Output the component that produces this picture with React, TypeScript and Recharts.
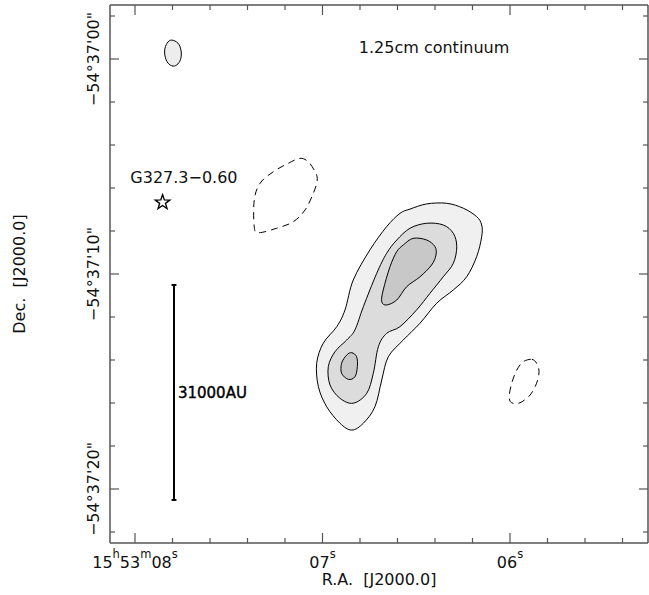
import React from 'react';
import { ScatterChart, Scatter, XAxis, YAxis, ReferenceLine } from 'recharts';

const FONT = '"DejaVu Sans", "Liberation Sans", sans-serif';
const FRAME = '#555555';
const INK = '#111111';

// x: R.A. seconds of 15h53m ; y: Dec offset in arcsec south of -54°37'00"
const outerContour = [
  { ra: 6.533, dec: 6.98 }, { ra: 6.444, dec: 6.74 }, { ra: 6.338, dec: 6.71 }, { ra: 6.249, dec: 6.94 },
  { ra: 6.178, dec: 7.33 }, { ra: 6.151, dec: 7.72 }, { ra: 6.151, dec: 8.27 }, { ra: 6.178, dec: 9.2 },
  { ra: 6.231, dec: 10.13 }, { ra: 6.302, dec: 10.74 }, { ra: 6.391, dec: 11.36 }, { ra: 6.48, dec: 12.29 },
  { ra: 6.569, dec: 13.07 }, { ra: 6.649, dec: 13.85 }, { ra: 6.684, dec: 14.93 }, { ra: 6.72, dec: 16.17 },
  { ra: 6.782, dec: 16.94 }, { ra: 6.844, dec: 17.26 }, { ra: 6.907, dec: 16.94 }, { ra: 6.978, dec: 16.17 },
  { ra: 7.022, dec: 15.24 }, { ra: 7.031, dec: 14.15 }, { ra: 6.996, dec: 13.22 }, { ra: 6.924, dec: 12.45 },
  { ra: 6.88, dec: 11.67 }, { ra: 6.836, dec: 10.28 }, { ra: 6.747, dec: 8.88 }, { ra: 6.658, dec: 7.8 },
  { ra: 6.587, dec: 7.18 },
];

const middleContour = [
  { ra: 6.604, dec: 8.42 }, { ra: 6.533, dec: 7.87 }, { ra: 6.444, dec: 7.64 }, { ra: 6.356, dec: 7.72 },
  { ra: 6.302, dec: 8.11 }, { ra: 6.284, dec: 8.73 }, { ra: 6.302, dec: 9.5 }, { ra: 6.356, dec: 10.13 },
  { ra: 6.427, dec: 10.9 }, { ra: 6.498, dec: 11.67 }, { ra: 6.587, dec: 12.45 }, { ra: 6.658, dec: 12.76 },
  { ra: 6.702, dec: 13.38 }, { ra: 6.729, dec: 14.62 }, { ra: 6.764, dec: 15.55 }, { ra: 6.836, dec: 16.01 },
  { ra: 6.907, dec: 15.78 }, { ra: 6.96, dec: 15.16 }, { ra: 6.969, dec: 14.31 }, { ra: 6.933, dec: 13.61 },
  { ra: 6.871, dec: 13.07 }, { ra: 6.827, dec: 12.6 }, { ra: 6.782, dec: 11.52 }, { ra: 6.711, dec: 9.97 },
  { ra: 6.658, dec: 9.04 },
];

const innerNorthContour = [
  { ra: 6.569, dec: 8.65 }, { ra: 6.516, dec: 8.34 }, { ra: 6.444, dec: 8.42 }, { ra: 6.4, dec: 8.73 },
  { ra: 6.395, dec: 9.12 }, { ra: 6.418, dec: 9.58 }, { ra: 6.48, dec: 10.13 }, { ra: 6.551, dec: 10.59 },
  { ra: 6.604, dec: 11.21 }, { ra: 6.658, dec: 11.44 }, { ra: 6.684, dec: 11.29 }, { ra: 6.676, dec: 10.74 },
  { ra: 6.64, dec: 9.66 }, { ra: 6.604, dec: 8.96 },
];

const innerSouthContour = [
  { ra: 6.844, dec: 13.66 }, { ra: 6.818, dec: 13.85 }, { ra: 6.814, dec: 14.31 }, { ra: 6.827, dec: 14.78 },
  { ra: 6.862, dec: 14.9 }, { ra: 6.898, dec: 14.62 }, { ra: 6.898, dec: 14.15 }, { ra: 6.871, dec: 13.77 },
];

const negativeNorthContour = [
  { ra: 7.12, dec: 4.62 }, { ra: 7.076, dec: 4.78 }, { ra: 7.04, dec: 5.24 }, { ra: 7.028, dec: 5.63 },
  { ra: 7.049, dec: 6.25 }, { ra: 7.093, dec: 7.02 }, { ra: 7.156, dec: 7.57 }, { ra: 7.244, dec: 7.87 },
  { ra: 7.342, dec: 8.08 }, { ra: 7.364, dec: 7.8 }, { ra: 7.364, dec: 6.56 }, { ra: 7.333, dec: 5.78 },
  { ra: 7.262, dec: 5.24 }, { ra: 7.182, dec: 4.85 },
];

const negativeSouthContour = [
  { ra: 5.884, dec: 13.97 }, { ra: 5.858, dec: 14.15 }, { ra: 5.845, dec: 14.54 }, { ra: 5.858, dec: 15.08 },
  { ra: 5.893, dec: 15.63 }, { ra: 5.947, dec: 15.99 }, { ra: 5.991, dec: 15.99 }, { ra: 6.004, dec: 15.71 },
  { ra: 5.991, dec: 15.08 }, { ra: 5.964, dec: 14.47 }, { ra: 5.929, dec: 14.08 },
];

const beamEllipse = [
  { ra: 7.803, dec: -0.88 }, { ra: 7.771, dec: -0.74 }, { ra: 7.755, dec: -0.42 }, { ra: 7.755, dec: -0.05 },
  { ra: 7.771, dec: 0.23 }, { ra: 7.797, dec: 0.33 }, { ra: 7.824, dec: 0.19 }, { ra: 7.84, dec: -0.14 },
  { ra: 7.84, dec: -0.51 }, { ra: 7.824, dec: -0.79 },
];

const sourceStar = [{ ra: 7.853, dec: 6.67 }];

const plainLabels = [
  { ra: 7.739, dec: 5.77, text: 'G327.3\u22120.60', anchor: 'middle' },
  { ra: 6.405, dec: -0.28, text: '1.25cm continuum', anchor: 'middle' },
];
const scaleLabels = [{ ra: 7.771, dec: 15.77, text: '31000AU', anchor: 'start' }];

const scaleBarRa = 7.792;
const scaleBarDec = [10.51, 20.51];
const scaleCapHalf = 0.013;

const raDomain = [5.264, 8.1333];
const decDomain = [-2.512, 22.512];
const raTicks = [8.0, 7.8, 7.6, 7.4, 7.2, 7.0, 6.8, 6.6, 6.4, 6.2, 6.0, 5.8, 5.6, 5.4];
const decTicks = [-2, 0, 2, 4, 6, 8, 10, 12, 14, 16, 18, 20, 22];
const raTickLabels = [
  { value: 8, text: '15^h53^m08^s' },
  { value: 7, text: '07^s' },
  { value: 6, text: '06^s' },
];
const decTickLabels = [
  { value: 0, text: '\u221254\u00b037\'00"' },
  { value: 10, text: '\u221254\u00b037\'10"' },
  { value: 20, text: '\u221254\u00b037\'20"' },
];
const xTitle = 'R.A.\u00a0\u00a0[J2000.0]';
const yTitle = 'Dec.\u00a0\u00a0[J2000.0]';

const near = (a: number, b: number) => Math.abs(a - b) < 1e-6;

function closedCurve(pts: { x: number; y: number }[]) {
  const n = pts.length;
  if (!n) return '';
  let d = `M${pts[0].x},${pts[0].y}`;
  for (let i = 0; i < n; i++) {
    const p0 = pts[(i - 1 + n) % n];
    const p1 = pts[i];
    const p2 = pts[(i + 1) % n];
    const p3 = pts[(i + 2) % n];
    const c1x = p1.x + (p2.x - p0.x) / 6;
    const c1y = p1.y + (p2.y - p0.y) / 6;
    const c2x = p2.x - (p3.x - p1.x) / 6;
    const c2y = p2.y - (p3.y - p1.y) / 6;
    d += ` C${c1x},${c1y} ${c2x},${c2y} ${p2.x},${p2.y}`;
  }
  return d + ' Z';
}

const ClosedContour = (props: any) => {
  const pts = (props.points || []).filter((p: any) => p && p.x != null && p.y != null);
  return (
    <path
      d={closedCurve(pts)}
      fill={props.areaFill || 'none'}
      stroke="#000"
      strokeWidth={1}
      strokeDasharray={props.dash}
    />
  );
};

const NoShape = () => <g />;

const StarShape = (props: any) => {
  const { cx, cy } = props;
  const R = 7.6;
  const r = 3.1;
  const pts: string[] = [];
  for (let i = 0; i < 10; i++) {
    const ang = -Math.PI / 2 + (i * Math.PI) / 5;
    const rad = i % 2 === 0 ? R : r;
    pts.push(`${cx + rad * Math.cos(ang)},${cy + rad * Math.sin(ang)}`);
  }
  return <polygon points={pts.join(' ')} fill="#fff" stroke="#000" strokeWidth={1.4} strokeLinejoin="miter" />;
};

const TextShape = (props: any) => {
  const { cx, cy, payload } = props;
  return (
    <text x={cx} y={cy} textAnchor={payload.anchor} fontFamily={FONT} fontSize={16} fill={INK}>
      {payload.text}
    </text>
  );
};

const BoldTextShape = (props: any) => {
  const { cx, cy, payload } = props;
  return (
    <text
      x={cx}
      y={cy}
      textAnchor={payload.anchor}
      fontFamily={FONT}
      fontSize={15}
      fill="#000"
      stroke="#000"
      strokeWidth={0.4}
    >
      {payload.text}
    </text>
  );
};

function renderSup(text: string) {
  const parts: { t: string; sup: boolean }[] = [];
  let buf = '';
  for (let i = 0; i < text.length; i++) {
    if (text[i] === '^') {
      if (buf) parts.push({ t: buf, sup: false });
      buf = '';
      parts.push({ t: text[i + 1], sup: true });
      i++;
    } else buf += text[i];
  }
  if (buf) parts.push({ t: buf, sup: false });
  let cur = 0;
  return parts.map((p, i) => {
    const target = p.sup ? -10 : 0;
    const dy = target - cur;
    cur = target;
    return (
      <tspan key={i} dy={dy} fontSize={p.sup ? 11.5 : 16}>
        {p.t}
      </tspan>
    );
  });
}

const BottomTick = (props: any) => {
  const { x, y, payload } = props;
  const v = payload.value;
  const major = near(v, Math.round(v));
  const lab = raTickLabels.find((l) => near(l.value, v));
  return (
    <g>
      <line x1={x} y1={y} x2={x} y2={y - (major ? 10 : 5)} stroke={FRAME} strokeWidth={1.2} />
      {lab && (
        <text x={x} y={y + 25} textAnchor="middle" fontFamily={FONT} fontSize={16} fill={INK}>
          {renderSup(lab.text)}
        </text>
      )}
    </g>
  );
};

const TopTick = (props: any) => {
  const { x, y, payload } = props;
  const v = payload.value;
  const major = near(v, Math.round(v));
  return <line x1={x} y1={y} x2={x} y2={y + (major ? 10 : 5)} stroke={FRAME} strokeWidth={1.2} />;
};

const LeftTick = (props: any) => {
  const { x, y, payload } = props;
  const v = payload.value;
  const major = near(v % 10, 0);
  const lab = decTickLabels.find((l) => near(l.value, v));
  const tx = x - 10.7;
  return (
    <g>
      <line x1={x} y1={y} x2={x + (major ? 9 : 5)} y2={y} stroke={FRAME} strokeWidth={1.2} />
      {lab && (
        <text
          x={tx}
          y={y}
          transform={`rotate(-90 ${tx} ${y})`}
          textAnchor="middle"
          fontFamily={FONT}
          fontSize={16}
          fill={INK}
        >
          {lab.text}
        </text>
      )}
    </g>
  );
};

const RightTick = (props: any) => {
  const { x, y, payload } = props;
  const v = payload.value;
  const major = near(v % 10, 0);
  return <line x1={x} y1={y} x2={x - (major ? 9 : 5)} y2={y} stroke={FRAME} strokeWidth={1.2} />;
};

const XTitle = (props: any) => {
  const vb = props.viewBox && props.viewBox.width ? props.viewBox : { x: 110, y: 543, width: 538, height: 0 };
  const cx = vb.x + vb.width / 2;
  return (
    <text x={cx} y={585} textAnchor="middle" fontFamily={FONT} fontSize={16} fill={INK}>
      {xTitle}
    </text>
  );
};

const YTitle = (props: any) => {
  const vb = props.viewBox && props.viewBox.height ? props.viewBox : { x: 109, y: 5, width: 1, height: 538 };
  const tx = 24.5;
  const ty = vb.y + vb.height / 2;
  return (
    <text
      x={tx}
      y={ty}
      transform={`rotate(-90 ${tx} ${ty})`}
      textAnchor="middle"
      fontFamily={FONT}
      fontSize={16}
      fill={INK}
    >
      {yTitle}
    </text>
  );
};

const axisLine = { stroke: FRAME, strokeWidth: 1.5 };

export default function App() {
  return (
    <div style={{ position: 'absolute', left: 0, top: 0, background: '#fff' }}>
      <ScatterChart width={649} height={595} margin={{ top: 4, right: 0, bottom: 51, left: 109 }}>
        <XAxis
          xAxisId="b"
          type="number"
          dataKey="ra"
          domain={raDomain}
          reversed
          ticks={raTicks}
          interval={0}
          tickSize={0}
          tickMargin={0}
          tickLine={false}
          tick={<BottomTick />}
          axisLine={axisLine}
          height={1}
          label={<XTitle />}
        />
        <XAxis
          xAxisId="t"
          orientation="top"
          type="number"
          dataKey="ra"
          domain={raDomain}
          reversed
          ticks={raTicks}
          interval={0}
          tickSize={0}
          tickMargin={0}
          tickLine={false}
          tick={<TopTick />}
          axisLine={axisLine}
          height={1}
        />
        <YAxis
          yAxisId="l"
          type="number"
          dataKey="dec"
          domain={decDomain}
          reversed
          ticks={decTicks}
          interval={0}
          tickSize={0}
          tickMargin={0}
          tickLine={false}
          tick={<LeftTick />}
          axisLine={axisLine}
          width={1}
          label={<YTitle />}
        />
        <YAxis
          yAxisId="r"
          orientation="right"
          type="number"
          dataKey="dec"
          domain={decDomain}
          reversed
          ticks={decTicks}
          interval={0}
          tickSize={0}
          tickMargin={0}
          tickLine={false}
          tick={<RightTick />}
          axisLine={axisLine}
          width={1}
        />

        <Scatter xAxisId="t" yAxisId="r" data={sourceStar} shape={<NoShape />} isAnimationActive={false} legendType="none" />

        <Scatter xAxisId="b" yAxisId="l" data={beamEllipse} shape={<NoShape />} line={<ClosedContour areaFill="#ededed" />} lineType="joint" isAnimationActive={false} />
        <Scatter xAxisId="b" yAxisId="l" data={outerContour} shape={<NoShape />} line={<ClosedContour areaFill="#f0f0f0" />} lineType="joint" isAnimationActive={false} />
        <Scatter xAxisId="b" yAxisId="l" data={middleContour} shape={<NoShape />} line={<ClosedContour areaFill="#dcdcdc" />} lineType="joint" isAnimationActive={false} />
        <Scatter xAxisId="b" yAxisId="l" data={innerNorthContour} shape={<NoShape />} line={<ClosedContour areaFill="#c8c8c8" />} lineType="joint" isAnimationActive={false} />
        <Scatter xAxisId="b" yAxisId="l" data={innerSouthContour} shape={<NoShape />} line={<ClosedContour areaFill="#c8c8c8" />} lineType="joint" isAnimationActive={false} />
        <Scatter xAxisId="b" yAxisId="l" data={negativeNorthContour} shape={<NoShape />} line={<ClosedContour dash="7 5" />} lineType="joint" isAnimationActive={false} />
        <Scatter xAxisId="b" yAxisId="l" data={negativeSouthContour} shape={<NoShape />} line={<ClosedContour dash="7 5" />} lineType="joint" isAnimationActive={false} />

        <ReferenceLine xAxisId="b" yAxisId="l" segment={[{ x: scaleBarRa, y: scaleBarDec[0] }, { x: scaleBarRa, y: scaleBarDec[1] }]} stroke="#000" strokeWidth={2} />
        <ReferenceLine xAxisId="b" yAxisId="l" segment={[{ x: scaleBarRa + scaleCapHalf, y: scaleBarDec[0] }, { x: scaleBarRa - scaleCapHalf, y: scaleBarDec[0] }]} stroke="#000" strokeWidth={2} />
        <ReferenceLine xAxisId="b" yAxisId="l" segment={[{ x: scaleBarRa + scaleCapHalf, y: scaleBarDec[1] }, { x: scaleBarRa - scaleCapHalf, y: scaleBarDec[1] }]} stroke="#000" strokeWidth={2} />

        <Scatter xAxisId="b" yAxisId="l" data={sourceStar} shape={<StarShape />} isAnimationActive={false} />
        <Scatter xAxisId="b" yAxisId="l" data={plainLabels} shape={<TextShape />} isAnimationActive={false} />
        <Scatter xAxisId="b" yAxisId="l" data={scaleLabels} shape={<BoldTextShape />} isAnimationActive={false} />
      </ScatterChart>
    </div>
  );
}
